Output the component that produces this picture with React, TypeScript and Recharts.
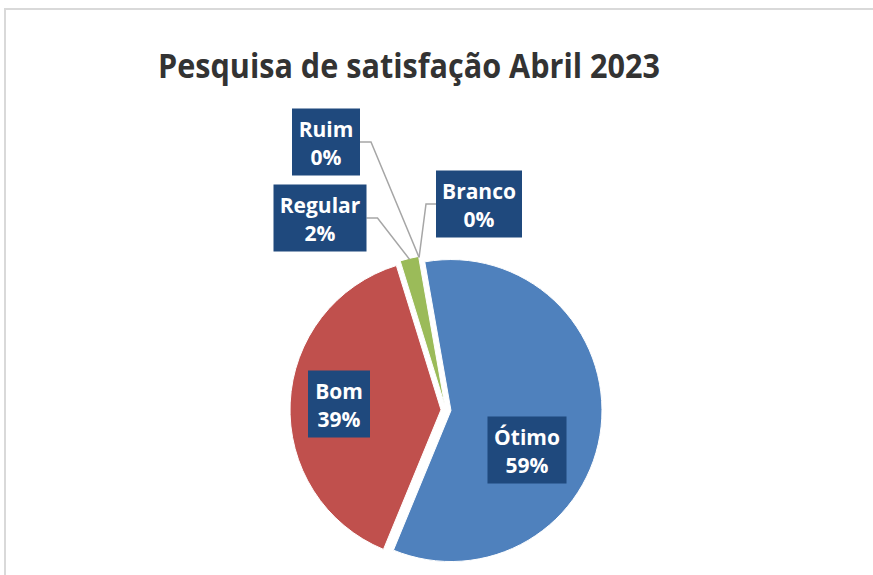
import { PieChart, Pie, Cell } from "recharts";

const categories = ["Ótimo", "Bom", "Regular", "Ruim", "Branco"];
const shares = [59, 39, 2, 0, 0];
const colors = ["#4F81BD", "#C0504D", "#9BBB59", "#8064A2", "#4BACC6"];

const rows = categories.map((name, i) => ({ name, value: shares[i] }));

const W = 873;
const H = 575;
const CX = 446;
const CY = 410;
const R = 151;
const EXPLODE = 5;
// first slice begins a little left of 12 o'clock, going clockwise
const START = 100;
const END = START - 360;

// label boxes were dragged around by hand in the original
const LABEL_BOX: Record<string, { x: number; y: number; w: number; leader?: boolean }> = {
  Ótimo: { x: 527, y: 450, w: 79 },
  Bom: { x: 339, y: 404, w: 62 },
  Regular: { x: 320, y: 218, w: 93, leader: true },
  Ruim: { x: 326, y: 142, w: 68, leader: true },
  Branco: { x: 479, y: 204, w: 86, leader: true },
};

const total = shares.reduce((a, b) => a + b, 0);
const offsets = shares.map((v, i) => {
  const before = shares.slice(0, i).reduce((a, b) => a + b, 0);
  const mid = START - ((before + v / 2) / total) * 360;
  const rad = (mid * Math.PI) / 180;
  return { dx: EXPLODE * Math.cos(rad), dy: -EXPLODE * Math.sin(rad) };
});

const renderLabel = (p: any) => {
  const box = LABEL_BOX[p.name];
  if (!box) return null;
  const h = 67;
  const top = box.y - h / 2;
  const left = box.x - box.w / 2;
  const rad = (-p.midAngle * Math.PI) / 180;
  const ax = p.cx + (p.outerRadius + 4) * Math.cos(rad);
  const ay = p.cy + (p.outerRadius + 4) * Math.sin(rad);
  let leader = null;
  if (box.leader) {
    const edge = box.x < ax ? left + box.w : left;
    const elbow = box.x < ax ? edge + 11 : edge - 10;
    leader = (
      <polyline
        points={`${edge},${box.y} ${elbow},${box.y} ${ax},${ay}`}
        fill="none"
        stroke="#A6A6A6"
        strokeWidth={1.5}
      />
    );
  }
  return (
    <g key={p.name}>
      {leader}
      <rect x={left} y={top} width={box.w} height={h} fill="#1F497D" />
      <text
        x={box.x}
        y={top + 28}
        textAnchor="middle"
        fill="#fff"
        fontSize={21}
        fontWeight="bold"
        fontFamily="'Open Sans', sans-serif"
      >
        {p.name}
      </text>
      <text
        x={box.x}
        y={top + 56}
        textAnchor="middle"
        fill="#fff"
        fontSize={21}
        fontWeight="bold"
        fontFamily="'Open Sans', sans-serif"
      >
        {`${Math.round(p.percent * 100)}%`}
      </text>
    </g>
  );
};

export default function App() {
  return (
    <div
      style={{
        position: "fixed",
        left: 0,
        top: 0,
        width: W,
        height: H,
        background: "#fff",
        overflow: "hidden",
      }}
    >
      <div
        style={{
          position: "absolute",
          left: 4,
          top: 8,
          width: W,
          height: H,
          borderTop: "2px solid #D9D9D9",
          borderLeft: "2px solid #D9D9D9",
        }}
      />
      <svg width={W} height={100} style={{ position: "absolute", left: 0, top: 0 }}>
        <text
          x={158}
          y={78}
          fontSize={34}
          fontWeight="bold"
          fill="#333333"
          fontFamily="'Open Sans', sans-serif"
          textLength={502}
          lengthAdjust="spacingAndGlyphs"
        >
          Pesquisa de satisfação Abril 2023
        </text>
      </svg>
      <div style={{ position: "absolute", left: 0, top: 0 }}>
        <PieChart width={W} height={H} margin={{ top: 0, right: 0, bottom: 0, left: 0 }}>
          {shares.map((v, i) =>
            v > 0 ? (
              <Pie
                key={categories[i]}
                data={rows}
                dataKey="value"
                nameKey="name"
                cx={CX + offsets[i].dx}
                cy={CY + offsets[i].dy}
                outerRadius={R}
                startAngle={START}
                endAngle={END}
                isAnimationActive={false}
                label={false}
                labelLine={false}
              >
                {rows.map((r, j) => (
                  <Cell
                    key={r.name}
                    fill={j === i ? colors[j] : "transparent"}
                    stroke={j === i ? "#fff" : "none"}
                    strokeWidth={1}
                  />
                ))}
              </Pie>
            ) : null
          )}
          <Pie
            data={rows}
            dataKey="value"
            nameKey="name"
            cx={CX}
            cy={CY}
            outerRadius={R}
            startAngle={START}
            endAngle={END}
            isAnimationActive={false}
            labelLine={false}
            label={renderLabel}
          >
            {rows.map((r) => (
              <Cell key={r.name} fill="transparent" stroke="none" />
            ))}
          </Pie>
        </PieChart>
      </div>
    </div>
  );
}
